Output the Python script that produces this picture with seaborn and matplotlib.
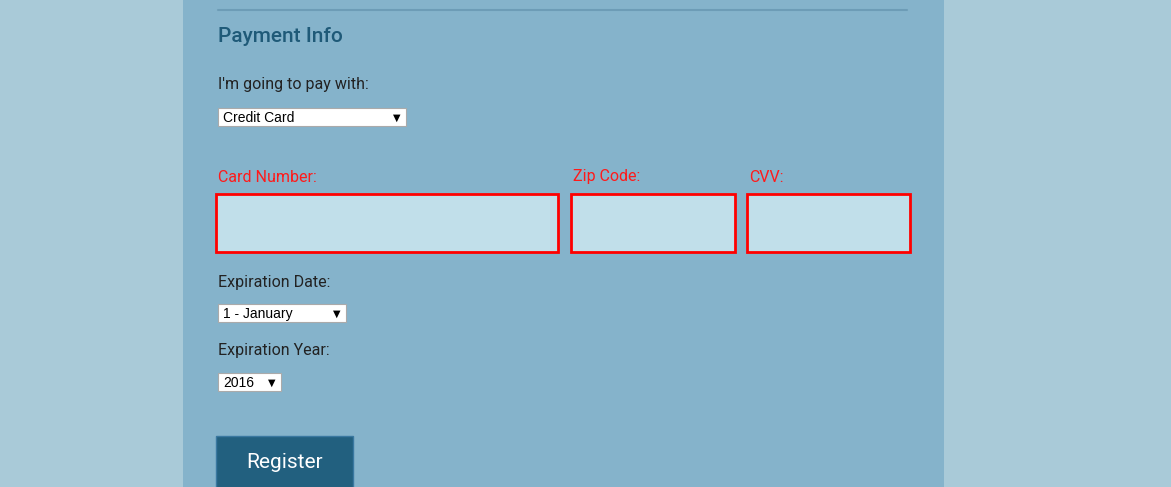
import matplotlib
matplotlib.use("Agg")
import matplotlib.pyplot as plt
import matplotlib.patches as mp
import seaborn as sns

sns.set_theme(style="white")
plt.rcParams['font.family'] = ['Roboto', 'DejaVu Sans']

section_title = "Payment Info"
labels = ["I'm going to pay with:", "Expiration Date:", "Expiration Year:"]
label_y = [85, 282, 351]
selects = ["Credit Card", "1 - January", "2016"]
select_box = [(218, 108, 188, 18), (218, 304, 128, 18), (218, 373, 63, 18)]
field_labels = ["Card Number:", "Zip Code:", "CVV:"]
field_box = [(216, 194, 342, 58), (571, 194, 164, 58), (747, 194, 163, 58)]
button_text = "Register"

fig = plt.figure(figsize=(11.71, 4.87), dpi=100)
fig.patch.set_facecolor("#a9cad8")
ax = fig.add_axes([0, 0, 1, 1])
ax.set_xlim(0, 1171)
ax.set_ylim(487, 0)
ax.axis("off")

ax.add_patch(mp.Rectangle((183, -5), 761, 500, color="#85b3cb", lw=0))
ax.plot([218, 907], [10, 10], color="#6d9cb6", lw=1.5)
ax.text(218, 36, section_title, fontsize=15, color="#1f5a78", va="center", fontweight="medium")

for t, y in zip(labels, label_y):
    ax.text(218, y, t, fontsize=11.5, color="#222222", va="center")

for t, (x, y, w, h) in zip(selects, select_box):
    ax.add_patch(mp.Rectangle((x, y), w, h, facecolor="white", edgecolor="#aaaaaa", lw=0.8))
    ax.text(x + 5, y + h / 2 + 1, t, fontsize=10, color="black", va="center",
            family=["Liberation Sans", "DejaVu Sans"])
    ax.text(x + w - 13, y + h / 2 + 1, "▼", fontsize=7, color="black", va="center",
            family=["DejaVu Sans"])

for t, (x, y, w, h) in zip(field_labels, field_box):
    ax.text(x + 2, 177, t, fontsize=11.5, color="#ff1a1a", va="center")
    ax.add_patch(mp.Rectangle((x, y), w, h, facecolor="#c1dfea", edgecolor="#ff0000", lw=2))

ax.add_patch(mp.Rectangle((216, 436), 137, 60, facecolor="#22607f", edgecolor="#3a78a0", lw=1))
ax.text(284.5, 462, button_text, fontsize=15, color="white", ha="center", va="center")

fig.savefig("out.png", dpi=100, facecolor=fig.get_facecolor())
